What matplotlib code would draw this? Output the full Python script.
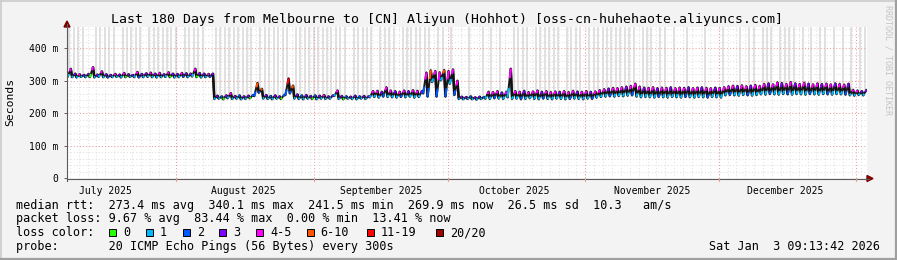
import matplotlib
matplotlib.use('Agg')
import matplotlib.pyplot as plt
from matplotlib.collections import LineCollection
from matplotlib.patches import Polygon, Rectangle
from matplotlib.lines import Line2D
from datetime import datetime, timedelta

# ---------------- data ----------------
title = "Last 180 Days from Melbourne to [CN] Aliyun (Hohhot) [oss-cn-huhehaote.aliyuncs.com]"
end_time = datetime(2026, 1, 3, 9, 13, 42)
n_days = 180

# daily maximum / minimum of the median rtt (ms)
daily_high = [
    337, 322, 320, 318, 321, 342, 319, 329, 320, 318,
    321, 319, 324, 320, 318, 327, 321, 323, 325, 322,
    324, 320, 326, 322, 321, 324, 323, 322, 337, 324,
    322, 321, 322, 254, 252, 255, 262, 253, 255, 252,
    254, 256, 293, 275, 256, 253, 255, 252, 256, 307,
    285, 258, 255, 256, 253, 255, 254, 256, 252, 255,
    270, 253, 252, 251, 254, 252, 253, 252, 268, 269,
    266, 280, 270, 268, 266, 270, 268, 271, 269, 268,
    325, 332, 330, 326, 333, 330, 335, 300, 251, 250,
    252, 249, 251, 250, 266, 265, 268, 264, 266, 337,
    268, 266, 269, 265, 267, 270, 266, 268, 265, 267,
    266, 268, 265, 269, 267, 266, 268, 266, 267, 271,
    274, 276, 278, 277, 280, 282, 284, 291, 282, 279,
    278, 280, 277, 279, 278, 280, 277, 279, 278, 280,
    277, 279, 280, 278, 277, 279, 278, 280, 283, 285,
    284, 286, 283, 285, 287, 284, 290, 292, 289, 295,
    293, 290, 296, 292, 290, 294, 291, 289, 292, 290,
    291, 289, 292, 290, 288, 291, 272, 270, 268, 271]

daily_low = [
    312, 310, 309, 311, 310, 310, 309, 311, 310, 309,
    310, 311, 309, 310, 311, 310, 309, 310, 311, 310,
    309, 310, 311, 310, 309, 310, 311, 310, 312, 310,
    309, 310, 311, 243, 244, 242, 245, 243, 244, 242,
    243, 245, 252, 262, 244, 243, 242, 244, 243, 255,
    260, 244, 243, 242, 244, 243, 242, 244, 243, 244,
    252, 243, 242, 244, 243, 242, 244, 243, 248, 249,
    247, 250, 249, 248, 247, 249, 248, 250, 247, 249,
    260, 250, 295, 250, 300, 250, 290, 255, 243, 242,
    243, 242, 241, 243, 244, 243, 245, 244, 243, 248,
    243, 244, 242, 243, 245, 243, 242, 244, 243, 242,
    244, 243, 242, 243, 244, 243, 242, 244, 243, 247,
    249, 250, 251, 250, 252, 251, 253, 254, 250, 248,
    249, 248, 247, 249, 248, 247, 249, 248, 247, 249,
    248, 247, 249, 248, 247, 249, 248, 247, 254, 255,
    254, 253, 255, 254, 253, 255, 257, 256, 258, 257,
    256, 258, 257, 256, 258, 257, 256, 258, 257, 256,
    258, 257, 256, 258, 257, 256, 254, 253, 255, 254]

# lost pings (of 20) at the daily high and low
loss_high = [
    5, 3, 5, 3, 3, 5, 3, 5, 3, 3,
    5, 3, 5, 3, 3, 5, 3, 3, 5, 3,
    5, 3, 5, 3, 3, 5, 3, 3, 5, 3,
    3, 5, 3, 3, 2, 3, 5, 3, 2, 3,
    3, 2, 10, 10, 3, 2, 3, 3, 2, 19,
    10, 3, 2, 3, 3, 2, 3, 5, 3, 3,
    5, 3, 2, 3, 3, 2, 3, 3, 5, 5,
    3, 5, 5, 3, 5, 5, 3, 5, 5, 3,
    5, 10, 5, 5, 10, 5, 5, 5, 3, 3,
    2, 3, 3, 2, 5, 5, 5, 3, 5, 5,
    5, 5, 3, 5, 5, 5, 3, 5, 5, 5,
    3, 5, 5, 5, 3, 5, 5, 3, 5, 5,
    5, 3, 5, 5, 5, 3, 5, 5, 5, 3,
    5, 5, 3, 5, 5, 3, 5, 5, 5, 3,
    5, 5, 3, 5, 5, 3, 5, 5, 5, 5,
    3, 5, 5, 3, 5, 5, 5, 3, 5, 5,
    3, 5, 5, 3, 5, 5, 3, 5, 5, 3,
    5, 5, 3, 5, 5, 3, 5, 5, 3, 3]

loss_low = [
    1, 1, 1, 1, 1, 0, 1, 1, 1, 2,
    1, 1, 1, 0, 1, 1, 2, 1, 1, 1,
    1, 1, 1, 0, 1, 1, 2, 1, 1, 0,
    1, 1, 2, 1, 1, 0, 1, 1, 1, 1,
    1, 0, 2, 2, 1, 1, 1, 1, 0, 2,
    2, 1, 1, 1, 1, 0, 1, 1, 1, 1,
    1, 1, 0, 1, 1, 1, 1, 1, 1, 1,
    1, 2, 1, 1, 1, 2, 1, 1, 1, 1,
    2, 2, 1, 2, 1, 2, 1, 2, 1, 1,
    1, 1, 1, 1, 1, 1, 2, 1, 1, 1,
    1, 1, 2, 1, 1, 1, 1, 2, 1, 1,
    1, 1, 1, 2, 1, 1, 1, 1, 2, 1,
    1, 1, 2, 1, 1, 1, 1, 2, 1, 1,
    1, 1, 1, 2, 1, 1, 1, 1, 1, 2,
    1, 1, 1, 1, 2, 1, 1, 1, 1, 2,
    1, 1, 1, 2, 1, 1, 1, 1, 2, 1,
    1, 1, 2, 1, 1, 1, 1, 2, 1, 1,
    1, 2, 1, 1, 1, 2, 1, 1, 1, 1]

# days on which some pings went off the top of the graph (smoke)
smoke_days = [
    0, 1, 2, 3, 6, 7, 8, 9, 10, 12, 13, 14, 15, 16, 18, 19, 20, 21, 22, 23, 24, 26, 27, 28, 29,
    30, 33, 34, 35, 36, 37, 38, 39, 40, 41, 43, 44, 45, 46, 47, 48, 49, 51, 52, 53, 54, 55, 56, 57, 58, 59,
    60, 61, 62, 64, 65, 66, 67, 68, 70, 71, 72, 73, 75, 76, 77, 78, 79,
    80, 81, 83, 84, 86,
    90, 93, 95, 97, 100, 101, 102, 103, 105, 106, 107, 108, 109, 110, 112, 113, 114, 115, 117, 118, 119,
    120, 121, 122, 123, 124, 125, 126, 127, 129, 130, 131, 133, 134, 136, 139, 143, 147,
    151, 153, 154, 156, 157, 158, 160, 161, 162, 163, 165, 167, 169, 170, 172, 174, 176, 178, 179]

y_ticks = [0, 100, 200, 300, 400]
y_tick_labels = ["0", "100 m", "200 m", "300 m", "400 m"]
month_labels = ["July 2025", "August 2025", "September 2025", "October 2025",
                "November 2025", "December 2025"]

loss_bins = [(0, '#26ff00', '0'), (1, '#00b8ff', '1'), (2, '#0059ff', '2'), (3, '#7e00ff', '3'),
             (5, '#ff00ff', '4-5'), (10, '#ff5500', '6-10'), (19, '#ff0000', '11-19'),
             (20, '#a10000', '20/20')]

line_rtt = "median rtt:  273.4 ms avg  340.1 ms max  241.5 ms min  269.9 ms now  26.5 ms sd  10.3   am/s"
line_loss = "packet loss: 9.67 % avg  83.44 % max  0.00 % min  13.41 % now"
line_probe = "probe:       20 ICMP Echo Pings (56 Bytes) every 300s"
stamp = "Sat Jan  3 09:13:42 2026"


def loss_color(n):
    for lim, c, _ in loss_bins:
        if n <= lim:
            return c
    return loss_bins[-1][1]


# ---------------- figure ----------------
W, H = 897, 260
fig = plt.figure(figsize=(W / 100, H / 100), dpi=100)
fig.patch.set_facecolor('#f3f3f3')
MONO = 'DejaVu Sans Mono'


def P(x, y):
    return (x / W, 1 - y / H)


L, R, T, B = 67, 867, 27, 178
ax = fig.add_axes([L / W, 1 - B / H, (R - L) / W, (B - T) / H])
ymax = 465
ax.set_xlim(0, n_days)
ax.set_ylim(0, ymax)
ax.set_facecolor('white')
for s in ax.spines.values():
    s.set_visible(False)

start_time = end_time - timedelta(days=n_days)


def dpos(dt):
    return (dt - start_time).total_seconds() / 86400.0


# grid
minor_col = '#e0e0e0'
major_col = '#eba0a0'
for v in range(20, ymax, 20):
    if v % 100:
        ax.axhline(v, color=minor_col, lw=0.75, ls=(0, (1, 2)), zorder=2)
d = datetime(2025, 7, 8)
while d < end_time:
    ax.axvline(dpos(d), color=minor_col, lw=0.75, ls=(0, (1, 2)), zorder=2)
    d += timedelta(days=2)
for v in y_ticks[1:]:
    ax.axhline(v, color=major_col, lw=0.75, ls=(0, (1, 2)), zorder=2)
month_starts = [datetime(2025, m, 1) for m in range(8, 13)] + [datetime(2026, 1, 1)]
for ms in month_starts:
    ax.axvline(dpos(ms), color=major_col, lw=0.75, ls=(0, (1, 2)), zorder=2)

# smoke
for sd in smoke_days:
    ax.plot([sd + 0.5, sd + 0.5], [daily_high[sd], ymax], color='#d9d9d9', lw=1.1,
            zorder=1, solid_capstyle='butt')

# dense smoke core (dark) + median line coloured by loss
xs, ys = [], []
for i in range(n_days):
    xs += [i + 0.15, i + 0.85]
    ys += [daily_low[i], daily_high[i]]
ax.plot(xs, ys, color='#1a1a1a', lw=1.5, zorder=3)
drops = [[(i + 0.85, daily_high[i]), (i + 1.15, daily_low[i + 1])] for i in range(n_days - 1)]
ax.add_collection(LineCollection(drops, colors='#111111', linewidths=1.8, zorder=3))
segs, cols = [], []
for i in range(n_days):
    x0, x1 = i + 0.15, i + 0.85
    y0, y1 = daily_low[i], daily_high[i]
    fa, fb = 0.33, 0.67
    segs.append([(x0 - 0.05, y0), (x0 + (x1 - x0) * fa, y0 + (y1 - y0) * fa)])
    cols.append(loss_color(loss_low[i]))
    segs.append([(x0 + (x1 - x0) * fb, y0 + (y1 - y0) * fb), (x1 + 0.05, y1)])
    cols.append(loss_color(loss_high[i]))
ax.add_collection(LineCollection(segs, colors=cols, linewidths=1.5, zorder=4,
                                 capstyle='butt'))

# ticks
ax.set_yticks(y_ticks, y_tick_labels)
label_pos = [dpos(datetime(2025, m, 16)) for m in range(7, 13)]
ax.set_xticks(label_pos, month_labels)
ax.tick_params(axis='x', length=0, pad=6, labelsize=7.05)
ax.tick_params(axis='y', length=2.5, width=0.7, color='#606060', pad=4, labelsize=7.05)
for lab in ax.get_xticklabels() + ax.get_yticklabels():
    lab.set_family(MONO)

# axis lines + arrows
axis_col = '#5a5a5a'
arrow_col = '#7f0000'
fig.add_artist(Line2D([P(67, 0)[0], P(869, 0)[0]], [P(0, 178.5)[1]] * 2, color=axis_col,
                      lw=0.8, transform=fig.transFigure))
fig.add_artist(Line2D([P(67, 0)[0]] * 2, [P(0, 178.5)[1], P(0, 24)[1]], color=axis_col,
                      lw=0.8, transform=fig.transFigure))
fig.add_artist(Polygon([P(64, 27), P(70, 27), P(67, 21)], closed=True, color=arrow_col,
                       transform=fig.transFigure))
fig.add_artist(Polygon([P(867, 175.5), P(867, 181.5), P(873, 178.5)], closed=True,
                       color=arrow_col, transform=fig.transFigure))
for ms in [start_time] + month_starts:
    xx = L + dpos(ms) / n_days * (R - L)
    fig.add_artist(Line2D([xx / W] * 2, [P(0, 178)[1], P(0, 181)[1]], color=major_col
                          if ms != start_time else axis_col, lw=0.8,
                          transform=fig.transFigure))

# titles
fig.text(*P(447, 23.5), title, ha='center', va='baseline', family=MONO, fontsize=9.5)
fig.text(*P(10.5, 102), "Seconds", ha='center', va='center', rotation=90, family=MONO,
         fontsize=8.2)
fig.text(*P(888, 60), "RRDTOOL / TOBI OETIKER", ha='center', va='center', rotation=-90,
         family=MONO, fontsize=6, color='#c4c4c4')

# legend
fs = 8.48
y1, y2, y3, y4 = 208.5, 222.4, 236.3, 250.2
fig.text(*P(16, y1), line_rtt, ha='left', va='baseline', family=MONO, fontsize=fs)
fig.text(*P(16, y2), line_loss, ha='left', va='baseline', family=MONO, fontsize=fs)
fig.text(*P(16, y3), "loss color:", ha='left', va='baseline', family=MONO, fontsize=fs)
sq_x = [109, 145.7, 182.7, 219.3, 256, 306.7, 366.7, 436]
for x, (_, c, lab) in zip(sq_x, loss_bins):
    fig.add_artist(Rectangle(P(x, 236), 7 / W, 7 / H, facecolor=c, edgecolor='black',
                             lw=0.7, transform=fig.transFigure))
    fig.text(*P(x + 14, y3), lab, ha='left', va='baseline', family=MONO, fontsize=fs)
fig.text(*P(16, y4), line_probe, ha='left', va='baseline', family=MONO, fontsize=fs)
fig.text(*P(880, y4), stamp, ha='right', va='baseline', family=MONO, fontsize=fs)

# frame
fig.add_artist(Line2D([0, 1], [1 - 0.5 / H] * 2, color='#cbcbcb', lw=1.2, transform=fig.transFigure))
fig.add_artist(Line2D([0.5 / W] * 2, [0, 1], color='#cbcbcb', lw=1.2, transform=fig.transFigure))
fig.add_artist(Line2D([0, 1], [1.2 / H] * 2, color='#9f9f9f', lw=1.6, transform=fig.transFigure))
fig.add_artist(Line2D([1 - 1.2 / W] * 2, [0, 1], color='#9f9f9f', lw=1.6, transform=fig.transFigure))

fig.savefig('out.png', dpi=100, facecolor=fig.get_facecolor())
